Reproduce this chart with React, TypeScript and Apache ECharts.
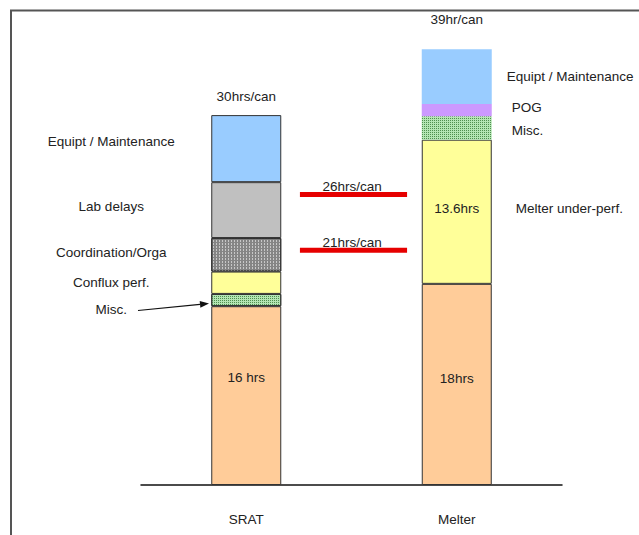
import React, { useEffect, useRef } from "react";
import * as echarts from "echarts";

// ---- data ----
const categories = ["SRAT", "Melter"];

const sratSegments = ["SRAT base", "Misc.", "Conflux perf.", "Coordination/Orga", "Lab delays", "Equipt / Maintenance"];
const sratHours = [16, 1.1, 2, 3, 5, 6];

const melterSegments = ["Melter base", "Melter under-perf.", "Misc.", "POG", "Equipt / Maintenance"];
const melterHours = [18, 12.9, 2.1, 1.1, 4.9];

const baseLabels = ["16 hrs", "18hrs"];
const underPerfLabel = "13.6hrs";
const totalLabels = ["30hrs/can", "39hr/can"];

const targetHours = [26, 21];
const targetLabels = ["26hrs/can", "21hrs/can"];

// ---- layout / style ----
const FONT = "'Liberation Sans', Arial, sans-serif";
const FS = 13.5;
const TXT = "#222";
const targetSpan = [0.755, 1.264]; // on hidden 0..2 x axis

const fill: Record<string, any> = {
  base: "#ffcc99",
  yellow: "#ffff99",
  blue: "#99ccff",
  gray: "#c0c0c0",
  purple: "#cc99ff",
  misc: {
    color: "#b4e6b4",
    decal: { symbol: "rect", symbolSize: 1, color: "#4f8f4f", dashArrayX: [1, 1], dashArrayY: [1, 1] },
  },
  coord: {
    color: "#858585",
    decal: { symbol: "rect", symbolSize: 1, color: "rgba(215,215,215,0.8)", dashArrayX: [1, 2], dashArrayY: [2, 1] },
  },
};

const sratStyle = [
  { fill: "base", label: "inside", dy: -18 },
  { fill: "misc", label: "left", dy: 9 },
  { fill: "yellow", label: "left", dy: 0 },
  { fill: "coord", label: "left", dy: -2 },
  { fill: "gray", label: "left", dy: -4 },
  { fill: "blue", label: "left", dy: -7 },
];
const melterStyle = [
  { fill: "base", label: "inside", dy: -6, border: true },
  { fill: "yellow", label: "right", dist: 24, dy: -3, border: true },
  { fill: "misc", label: "right", dist: 20, dy: 3 },
  { fill: "purple", label: "right", dist: 20, dy: -3 },
  { fill: "blue", label: "right", dist: 15, dy: 0 },
];

function itemStyleFor(key: string, border: boolean) {
  const f = fill[key];
  const base = typeof f === "string" ? { color: f } : { color: f.color, decal: f.decal };
  return border
    ? { ...base, borderColor: "#333", borderWidth: 1 }
    : { ...base, borderWidth: 0 };
}

function buildSeries() {
  const series: any[] = [];
  sratSegments.forEach((name, i) => {
    const st = sratStyle[i];
    const label =
      st.label === "inside"
        ? { show: true, position: "inside", offset: [0, st.dy], formatter: baseLabels[0] }
        : {
            show: true,
            position: [-100, "50%"],
            align: "center",
            verticalAlign: "middle",
            offset: [0, st.dy],
            formatter: name,
          };
    series.push({
      type: "bar",
      name: "SRAT " + name,
      stack: "hrs",
      barWidth: 70,
      data: [sratHours[i], "-"],
      itemStyle: itemStyleFor(st.fill, true),
      label: { ...label, color: TXT, fontSize: FS, fontFamily: FONT },
    });
  });
  melterSegments.forEach((name, i) => {
    const st: any = melterStyle[i];
    const label =
      st.label === "inside"
        ? { show: true, position: "inside", offset: [0, st.dy], formatter: baseLabels[1] }
        : { show: true, position: "right", distance: st.dist, offset: [0, st.dy], formatter: name };
    const s: any = {
      type: "bar",
      name: "Melter " + name,
      stack: "hrs",
      barWidth: 70,
      data: ["-", melterHours[i]],
      itemStyle: itemStyleFor(st.fill, !!st.border),
      label: { ...label, color: TXT, fontSize: FS, fontFamily: FONT },
    };
    if (i === 1) {
      const mid = melterHours[0] + melterHours[1] / 2;
      s.markPoint = {
        symbol: "circle",
        symbolSize: 1,
        itemStyle: { color: "rgba(0,0,0,0)" },
        data: [{ coord: [categories[1], mid] }],
        label: {
          show: true,
          position: "inside",
          offset: [0, -3],
          formatter: underPerfLabel,
          color: TXT,
          fontSize: FS,
          fontFamily: FONT,
        },
      };
    }
    series.push(s);
  });
  // totals on top of each stack
  series.push({
    type: "bar",
    name: "total",
    stack: "hrs",
    barWidth: 70,
    data: [
      { value: 0, label: { distance: 12 } },
      { value: 0, label: { distance: 23 } },
    ],
    itemStyle: { color: "rgba(0,0,0,0)" },
    label: {
      show: true,
      position: "top",
      formatter: (p: any) => totalLabels[p.dataIndex],
      color: TXT,
      fontSize: FS,
      fontFamily: FONT,
    },
  });
  // target lines
  targetHours.forEach((h, i) => {
    series.push({
      type: "line",
      name: targetLabels[i],
      xAxisIndex: 1,
      yAxisIndex: 0,
      symbol: "circle",
      symbolSize: 1,
      itemStyle: { color: "rgba(0,0,0,0)" },
      lineStyle: { color: "#e60000", width: 5 },
      data: [
        {
          value: [targetSpan[0], h],
          label: {
            show: true,
            position: "right",
            offset: [17, -8],
            formatter: targetLabels[i],
            color: TXT,
            fontSize: FS,
            fontFamily: FONT,
          },
        },
        { value: [targetSpan[1], h] },
      ],
    });
  });
  return series;
}

// arrow from "Misc." label to the bar
const tip = [209, 303.5];
const tail = [138, 310.5];
const dx = tip[0] - tail[0];
const dy = tip[1] - tail[1];
const len = Math.hypot(dx, dy);
const ux = dx / len;
const uy = dy / len;
const hb = [tip[0] - 9 * ux, tip[1] - 9 * uy];
const arrowHead = [
  tip,
  [hb[0] - 3.5 * uy, hb[1] + 3.5 * ux],
  [hb[0] + 3.5 * uy, hb[1] - 3.5 * ux],
];

export default function App() {
  const ref = useRef<HTMLDivElement>(null);
  useEffect(() => {
    if (!ref.current) return;
    const chart = echarts.init(ref.current, undefined, { renderer: "svg" });
    chart.setOption({
      animation: false,
      backgroundColor: "#ffffff",
      grid: { left: 141, right: 77, top: 38, bottom: 50, containLabel: false },
      xAxis: [
        {
          type: "category",
          data: categories,
          axisLine: { show: true, lineStyle: { color: "#111", width: 1.5 } },
          axisTick: { show: false },
          axisLabel: { margin: 27, color: TXT, fontSize: FS, fontFamily: FONT },
          splitLine: { show: false },
        },
        { type: "value", min: 0, max: 2, show: false },
      ],
      yAxis: {
        type: "value",
        min: 0,
        max: 40,
        show: false,
        splitLine: { show: false },
      },
      graphic: [
        {
          type: "polyline",
          shape: { points: [[11, 535], [11, 10.5], [639, 10.5]] },
          style: { stroke: "#555", lineWidth: 2, fill: null },
          silent: true,
        },
        {
          type: "line",
          shape: { x1: tail[0], y1: tail[1], x2: hb[0], y2: hb[1] },
          style: { stroke: "#111", lineWidth: 1.2 },
          silent: true,
        },
        {
          type: "polygon",
          shape: { points: arrowHead },
          style: { fill: "#111" },
          silent: true,
        },
      ],
      series: buildSeries(),
    });
    return () => chart.dispose();
  }, []);
  return (
    <div
      ref={ref}
      style={{ position: "fixed", left: 0, top: 0, width: 639, height: 535, background: "#fff" }}
    />
  );
}
